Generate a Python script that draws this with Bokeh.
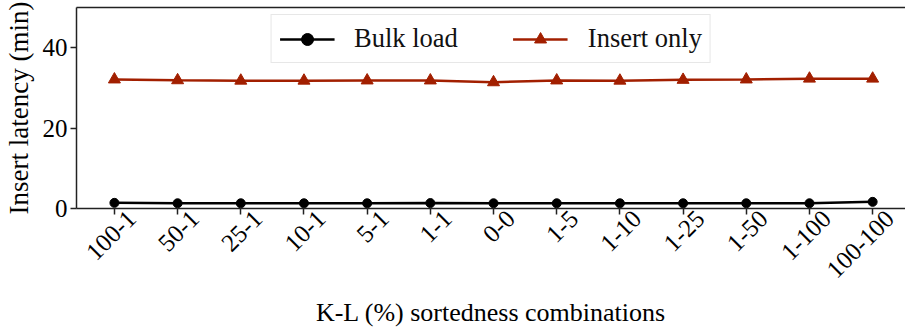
import math
from bokeh.plotting import figure
from bokeh.models import Range1d, FixedTicker, LinearAxis, Legend
from bokeh.embed import file_html
from bokeh.resources import INLINE

categories = ["100-1", "50-1", "25-1", "10-1", "5-1", "1-1", "0-0",
              "1-5", "1-10", "1-25", "1-50", "1-100", "100-100"]
bulk_load = [1.4, 1.3, 1.3, 1.3, 1.3, 1.35, 1.3, 1.3, 1.3, 1.3, 1.3, 1.3, 1.65]
insert_only = [32.1, 31.9, 31.8, 31.8, 31.85, 31.85, 31.4, 31.85, 31.8, 32.0, 32.1, 32.3, 32.3]
y_ticks = [0, 20, 40]

FONT = "Liberation Serif"
RED = "#A21F00"

xs = list(range(len(categories)))
X0, X1 = -0.6, 12.52
LABEL_SHIFT = 0.27  # rotated tick labels are centred on their ticks

p = figure(frame_width=829, frame_height=201, output_backend="svg",
           toolbar_location=None, x_range=Range1d(X0, X1),
           y_range=Range1d(0, 50), min_border_left=76, min_border_right=0,
           min_border_top=7, min_border_bottom=0, outline_line_color=None)
p.extra_x_ranges = {"lbl": Range1d(X0 - LABEL_SHIFT, X1 - LABEL_SHIFT)}
p.background_fill_color = "white"
p.xgrid.visible = False
p.ygrid.visible = False

for ax in (p.xaxis[0], p.yaxis[0]):
    ax.axis_line_color = "#222222"
    ax.axis_line_width = 1.5
    ax.major_tick_line_color = "#222222"
    ax.major_tick_line_width = 1.5
    ax.major_tick_out = 6
    ax.major_tick_in = 0
    ax.minor_tick_out = 0
    ax.minor_tick_in = 0
    ax.major_label_text_font = FONT
    ax.major_label_text_font_size = "25px"
    ax.major_label_text_color = "black"
    ax.axis_label_text_font = FONT
    ax.axis_label_text_color = "black"
    ax.axis_label_text_font_style = "normal"

# main x axis: spine and tick marks only
p.xaxis[0].ticker = FixedTicker(ticks=xs)
p.xaxis[0].major_label_overrides = {i: "" for i in xs}
p.xaxis[0].major_label_standoff = 0

# label axis: the category labels and the axis title
lbl = LinearAxis(x_range_name="lbl", ticker=FixedTicker(ticks=xs),
                 major_label_overrides={i: c for i, c in zip(xs, categories)},
                 major_label_orientation=math.pi / 4,
                 major_label_standoff=0,
                 major_label_text_font=FONT, major_label_text_font_size="25px",
                 major_label_text_color="black",
                 axis_line_color=None, major_tick_line_color=None,
                 major_tick_out=0, major_tick_in=0,
                 minor_tick_out=0, minor_tick_in=0,
                 axis_label="K-L (%) sortedness combinations",
                 axis_label_text_font=FONT, axis_label_text_font_size="26px",
                 axis_label_text_font_style="normal",
                 axis_label_text_color="black", axis_label_standoff=10)
p.add_layout(lbl, "below")

p.yaxis[0].ticker = FixedTicker(ticks=y_ticks)
p.yaxis[0].major_label_standoff = 3
p.yaxis[0].axis_label = "Insert latency (min)"
p.yaxis[0].axis_label_text_font_size = "27px"
p.yaxis[0].axis_label_standoff = 6

top = LinearAxis(ticker=FixedTicker(ticks=[]), axis_line_color="#222222",
                 axis_line_width=1.5, major_tick_out=0, major_tick_in=0,
                 minor_tick_out=0, minor_tick_in=0,
                 major_label_text_font_size="0px")
p.add_layout(top, "above")

r1 = p.line(xs, bulk_load, line_color="black", line_width=2.5)
r2 = p.scatter(xs, bulk_load, marker="circle", size=9, fill_color="black",
               line_color="black")
r3 = p.line(xs, insert_only, line_color=RED, line_width=2.5)
r4 = p.scatter(xs, insert_only, marker="triangle", size=12, fill_color=RED,
               line_color=RED)

legend = Legend(items=[("Bulk load", [r1, r2]), ("Insert only", [r3, r4])],
                location="top_center", orientation="horizontal",
                label_text_font=FONT, label_text_font_size="26.5px",
                label_text_color="#111111",
                glyph_width=55, glyph_height=30, label_standoff=20,
                spacing=55, padding=8, margin=7,
                border_line_color="#d0d0d0", border_line_width=1.2,
                background_fill_color="white", background_fill_alpha=0.85)
p.add_layout(legend, "center")

open("out.html", "w").write(file_html(p, INLINE))
